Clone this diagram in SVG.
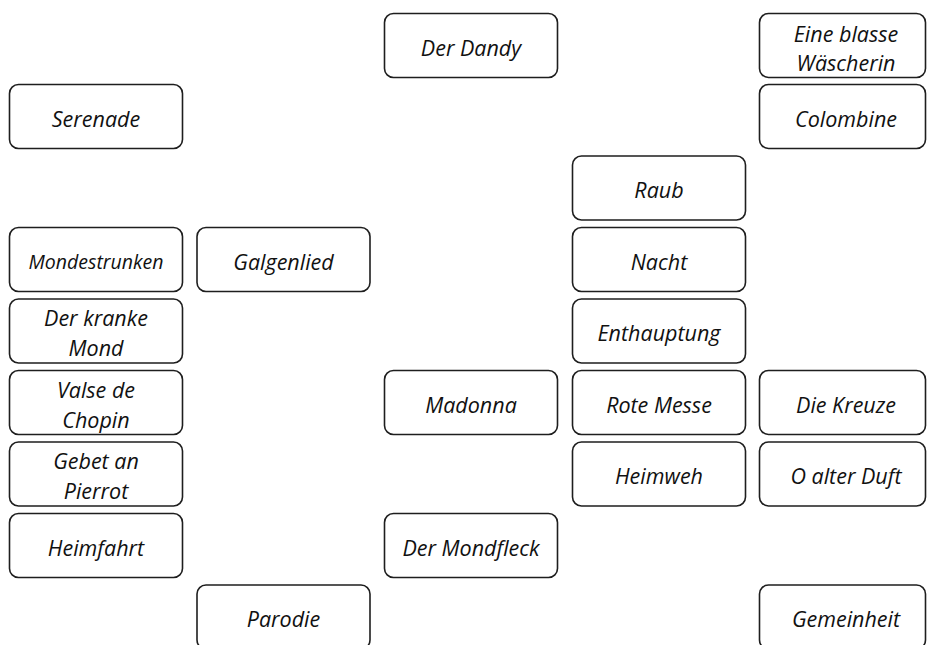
<svg xmlns="http://www.w3.org/2000/svg" width="927" height="645" viewBox="0 0 927 645">
<style>
.b{fill:#fff;stroke:#1e1e1e;stroke-width:1.6}
text{font-family:"Open Sans","Noto Sans",sans-serif;font-style:italic;font-size:21.5px;fill:#111;text-anchor:middle}
.s{font-size:19.5px}
</style>
<rect width="927" height="645" fill="#fff"/>
<g id="connectors"></g>
<g id="n-dandy"><rect class="b" x="384.5" y="13.5" width="173" height="64" rx="9"/><text x="471" y="55.5">Der Dandy</text></g>
<g id="n-waescherin"><rect class="b" x="759.5" y="13.5" width="166" height="64" rx="9"/><text x="846" y="41.5">Eine blasse</text><text x="846" y="70.5">Wäscherin</text></g>
<g id="n-serenade"><rect class="b" x="9.5" y="84.5" width="173" height="64" rx="9"/><text x="96" y="126.5">Serenade</text></g>
<g id="n-colombine"><rect class="b" x="759.5" y="84.5" width="166" height="64" rx="9"/><text x="846" y="126.5">Colombine</text></g>
<g id="n-raub"><rect class="b" x="572.5" y="156" width="173" height="64" rx="9"/><text x="659" y="198">Raub</text></g>
<g id="n-mondestrunken"><rect class="b" x="9.5" y="227.5" width="173" height="64" rx="9"/><text class="s" x="96" y="269">Mondestrunken</text></g>
<g id="n-galgenlied"><rect class="b" x="197" y="227.5" width="173" height="64" rx="9"/><text x="283.5" y="269.5">Galgenlied</text></g>
<g id="n-nacht"><rect class="b" x="572.5" y="227.5" width="173" height="64" rx="9"/><text x="659" y="269.5">Nacht</text></g>
<g id="n-kranke"><rect class="b" x="9.5" y="299" width="173" height="64" rx="9"/><text x="96" y="326">Der kranke</text><text x="96" y="356">Mond</text></g>
<g id="n-enthauptung"><rect class="b" x="572.5" y="299" width="173" height="64" rx="9"/><text x="659" y="341">Enthauptung</text></g>
<g id="n-valse"><rect class="b" x="9.5" y="370.5" width="173" height="64" rx="9"/><text x="96" y="397.5">Valse de</text><text x="96" y="427.5">Chopin</text></g>
<g id="n-madonna"><rect class="b" x="384.5" y="370.5" width="173" height="64" rx="9"/><text x="471" y="412.5">Madonna</text></g>
<g id="n-rotemesse"><rect class="b" x="572.5" y="370.5" width="173" height="64" rx="9"/><text x="659" y="412.5">Rote Messe</text></g>
<g id="n-kreuze"><rect class="b" x="759.5" y="370.5" width="166" height="64" rx="9"/><text x="846" y="412.5">Die Kreuze</text></g>
<g id="n-gebet"><rect class="b" x="9.5" y="442" width="173" height="64" rx="9"/><text x="96" y="469">Gebet an</text><text x="96" y="499">Pierrot</text></g>
<g id="n-heimweh"><rect class="b" x="572.5" y="442" width="173" height="64" rx="9"/><text x="659" y="484">Heimweh</text></g>
<g id="n-duft"><rect class="b" x="759.5" y="442" width="166" height="64" rx="9"/><text x="846" y="484">O alter Duft</text></g>
<g id="n-heimfahrt"><rect class="b" x="9.5" y="513.5" width="173" height="64" rx="9"/><text x="96" y="555.5">Heimfahrt</text></g>
<g id="n-mondfleck"><rect class="b" x="384.5" y="513.5" width="173" height="64" rx="9"/><text x="471" y="555.5">Der Mondfleck</text></g>
<g id="n-parodie"><rect class="b" x="197" y="585" width="173" height="64" rx="9"/><text x="283.5" y="627">Parodie</text></g>
<g id="n-gemeinheit"><rect class="b" x="759.5" y="585" width="166" height="64" rx="9"/><text x="846" y="627">Gemeinheit</text></g>
</svg>
